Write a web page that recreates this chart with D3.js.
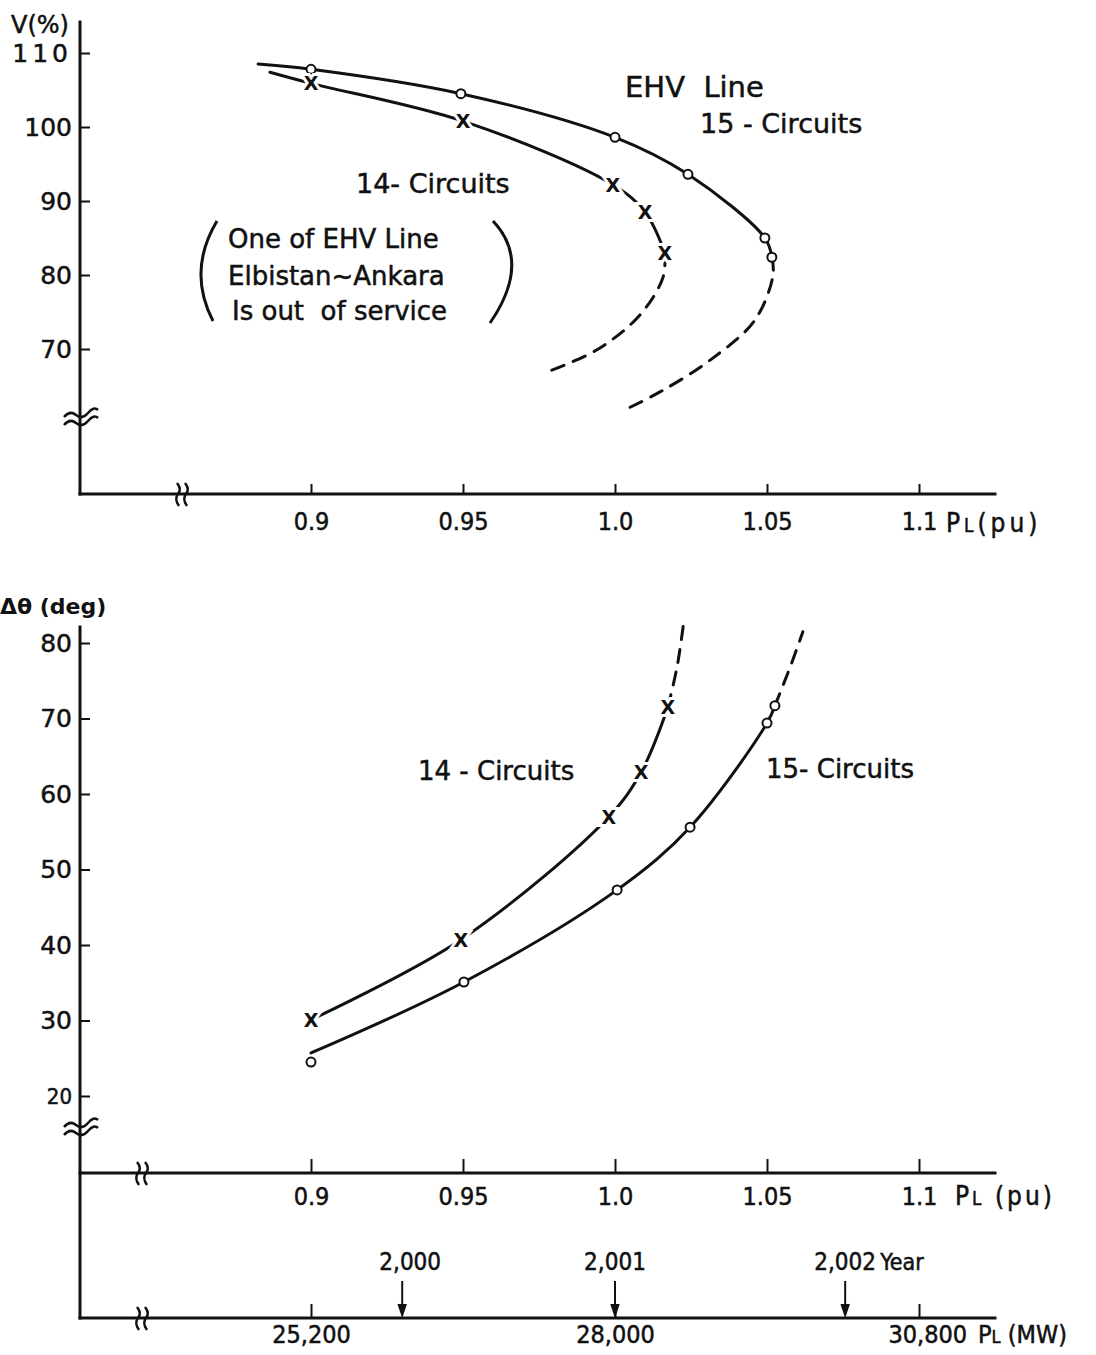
<!DOCTYPE html>
<html>
<head>
<meta charset="utf-8">
<script src="https://cdn.jsdelivr.net/npm/d3@7"></script>
<style>
  html, body { margin: 0; padding: 0; background: #fff; }
  svg { display: block; }
  text { fill: #111; }
  .ink { stroke: #111; stroke-width: 0.5px; }
</style>
</head>
<body>
<svg id="chart" width="1096" height="1355"></svg>
<script>
// ---------------- DATA ----------------
// Shared per-unit load axis
const puTicks = [0.9, 0.95, 1.0, 1.05, 1.1];
const puTickLabels = ["0.9", "0.95", "1.0", "1.05", "1.1"];

// Top panel: receiving-end voltage V(%) vs PL (pu)
const vTicks = [70, 80, 90, 100, 110];
const vTickLabels = ["70", "80", "90", "100", "110"];
// 15 circuits (circles)
const v15Solid  = [[0.8826,108.5],[0.9,107.8],[0.9493,104.5],[1.0,98.6],[1.024,93.6],[1.0493,85.0],[1.0516,82.4]];
const v15Dashed = [[1.0516,82.4],[1.052,80.0],[1.046,73.9],[1.0313,68.5],[1.0148,64.2],[1.0023,61.6]];
const v15Marks  = [[0.9,107.8],[0.9493,104.5],[1.0,98.6],[1.024,93.6],[1.0493,85.0],[1.0516,82.4]];
// 14 circuits (crosses)
const v14Solid  = [[0.8865,107.4],[0.9,105.9],[0.95,100.8],[0.9993,92.2],[1.0099,88.5],[1.0164,83.0]];
const v14Dashed = [[1.0164,83.0],[1.0158,79.7],[1.0082,74.6],[0.9941,69.9],[0.977,66.8]];
const v14Marks  = [[0.9,105.9],[0.95,100.8],[0.9993,92.2],[1.0099,88.5],[1.0164,83.0]];

// Bottom panel: phase angle difference (deg) vs PL
const dTicks = [20, 30, 40, 50, 60, 70, 80];
const d15Solid  = [[0.9,25.7],[0.9503,35.1],[1.0007,47.3],[1.0247,55.6],[1.05,69.4],[1.0526,71.7]];
const d15Dashed = [[1.0526,71.7],[1.0576,76.8],[1.0618,81.5]];
const d15Marks  = [[0.9,24.5],[0.9503,35.1],[1.0007,47.3],[1.0247,55.6],[1.05,69.4],[1.0526,71.7]];
const d14Solid  = [[0.9,30.1],[0.9493,40.7],[0.998,57.0],[1.0086,62.9],[1.0174,71.5]];
const d14Dashed = [[1.0174,71.5],[1.0204,76.8],[1.0227,83.0]];
const d14Marks  = [[0.9,30.1],[0.9493,40.7],[0.998,57.0],[1.0086,62.9],[1.0174,71.5]];

// MW axis and years
const mwTicks = [25200, 28000, 30800];
const mwTickLabels = ["25,200", "28,000", "30,800"];
const yearLabels = ["2,000", "2,001", "2,002"];
const yearMW = [26040, 28000, 30120];

// ---------------- LAYOUT ----------------
const svg = d3.select("#chart");
const axisX = 80, axisRight = 995;
const topAxisY = 494, topAxisTop = 22;
const botAxisTop = 627, puAxisY = 1173, mwAxisY = 1318;

const x = d3.scaleLinear().domain([0.9, 1.1]).range([311, 919]);
const xMW = d3.scaleLinear().domain([25200, 30800]).range([311, 919]);
const yV = d3.scaleLinear().domain([70, 110]).range([349, 53]);
const yD = d3.scaleLinear().domain([20, 80]).range([1096, 643]);

const FONT = "'DejaVu Sans', 'Liberation Sans', sans-serif";
const FONTC = "'DejaVu Sans Condensed', 'Liberation Sans Narrow', 'DejaVu Sans', sans-serif";
const INK = "#111";

function axisLine(x1, y1, x2, y2) {
  svg.append("line").attr("x1", x1).attr("y1", y1).attr("x2", x2).attr("y2", y2)
    .attr("stroke", INK).attr("stroke-width", 3).attr("stroke-linecap", "square");
}

function styleAxis(g, font, size) {
  g.select(".domain").remove();
  g.selectAll(".tick line").attr("stroke", INK).attr("stroke-width", 2);
  g.selectAll(".tick text").attr("font-family", font).attr("font-size", size)
    .attr("fill", INK).attr("class", "ink");
}

// Y break symbol (≈) on vertical axis
function yBreak(yc) {
  [-4, 4].forEach(o => {
    svg.append("path")
      .attr("d", `M${axisX-16},${yc+o+2} q6,-7 12,-2 t12,-2 t10,-3`)
      .attr("fill", "none").attr("stroke", INK).attr("stroke-width", 2.5);
  });
}
// X break symbol ()) on horizontal axis
function xBreak(xc, yc) {
  [-4, 4].forEach(o => {
    svg.append("path")
      .attr("d", `M${xc+o-2},${yc-11} q5,6 1,11 t1,12`)
      .attr("fill", "none").attr("stroke", INK).attr("stroke-width", 2.5);
  });
}

function pl(sel, tail, size) {
  sel.append("tspan").text("P");
  sel.append("tspan").attr("font-size", size * 0.72).text("L");
  sel.append("tspan").text(tail);
}

// ---------------- TOP PANEL ----------------
axisLine(axisX, topAxisTop, axisX, topAxisY);
axisLine(axisX, topAxisY, axisRight, topAxisY);

const gxTop = svg.append("g").attr("transform", `translate(0,${topAxisY})`)
  .call(d3.axisBottom(x).tickValues(puTicks).tickFormat((d, i) => puTickLabels[i])
    .tickSizeInner(-10).tickSizeOuter(0).tickPadding(18));
styleAxis(gxTop, FONTC, 25);

const gyTop = svg.append("g").attr("transform", `translate(${axisX},0)`)
  .call(d3.axisLeft(yV).tickValues(vTicks).tickFormat((d, i) => vTickLabels[i])
    .tickSizeInner(-10).tickSizeOuter(0).tickPadding(8));
styleAxis(gyTop, FONT, 25);
gyTop.selectAll(".tick text").filter(d => d === 110).attr("letter-spacing", 4);

yBreak(419);
xBreak(183, topAxisY);

svg.append("text").attr("x", 11).attr("y", 33).attr("font-family", FONT)
  .attr("font-size", 24).attr("class", "ink").text("V(%)");

const tx = svg.append("text").attr("x", 946).attr("y", 532)
  .attr("font-family", FONTC).attr("font-size", 26).attr("letter-spacing", 4).attr("class", "ink");
pl(tx, "(pu)", 26);

// ---------------- BOTTOM PANEL ----------------
axisLine(axisX, botAxisTop, axisX, mwAxisY);
axisLine(axisX, puAxisY, axisRight, puAxisY);
axisLine(axisX, mwAxisY, axisRight, mwAxisY);

const gxBot = svg.append("g").attr("transform", `translate(0,${puAxisY})`)
  .call(d3.axisBottom(x).tickValues(puTicks).tickFormat((d, i) => puTickLabels[i])
    .tickSizeInner(-14).tickSizeOuter(0).tickPadding(14));
styleAxis(gxBot, FONTC, 25);

const gyBot = svg.append("g").attr("transform", `translate(${axisX},0)`)
  .call(d3.axisLeft(yD).tickValues(dTicks).tickFormat(d3.format("d"))
    .tickSizeInner(-10).tickSizeOuter(0).tickPadding(8));
styleAxis(gyBot, FONT, 25);
gyBot.selectAll(".tick text").filter(d => d === 20).attr("font-family", FONTC).attr("font-size", 22);

const gMW = svg.append("g").attr("transform", `translate(0,${mwAxisY})`)
  .call(d3.axisBottom(xMW).tickValues(mwTicks).tickFormat((d, i) => mwTickLabels[i])
    .tickSizeInner(-14).tickSizeOuter(0).tickPadding(7));
styleAxis(gMW, FONTC, 25);
gMW.selectAll(".tick text").filter(d => d === 30800)
  .attr("text-anchor", "start").attr("x", -31);

yBreak(1129);
xBreak(143, puAxisY);
xBreak(143, mwAxisY);

svg.append("text").attr("x", 0).attr("y", 614).attr("font-family", FONT)
  .attr("font-size", 22).attr("font-weight", "bold").text("Δθ (deg)");

const tpu = svg.append("text").attr("x", 955).attr("y", 1205)
  .attr("font-family", FONTC).attr("font-size", 26).attr("letter-spacing", 3).attr("class", "ink");
pl(tpu, " (pu)", 26);

const tmw = svg.append("text").attr("x", 978).attr("y", 1343)
  .attr("font-family", FONTC).attr("font-size", 25).attr("class", "ink");
pl(tmw, " (MW)", 25);

// year arrows
const yearG = svg.append("g");
yearMW.forEach((mw, i) => {
  const xx = xMW(mw);
  yearG.append("line").attr("x1", xx).attr("x2", xx).attr("y1", 1281).attr("y2", mwAxisY - 4)
    .attr("stroke", INK).attr("stroke-width", 2);
  yearG.append("path").attr("d", `M${xx-4},${mwAxisY-14} L${xx},${mwAxisY-2} L${xx+4},${mwAxisY-14}`)
    .attr("fill", INK).attr("stroke", INK).attr("stroke-width", 1.5);
  yearG.append("text").attr("x", xx + (i === 0 ? 8 : 0)).attr("y", 1270).attr("text-anchor", "middle")
    .attr("font-family", FONTC).attr("font-size", 24).attr("class", "ink").text(yearLabels[i]);
});
yearG.append("text").attr("x", xMW(yearMW[2]) + 35).attr("y", 1270)
  .attr("font-family", FONTC).attr("font-size", 23).attr("class", "ink").text("Year");

// ---------------- CURVES ----------------
function drawCurve(data, yScale, dashed) {
  const line = d3.line().x(d => x(d[0])).y(d => yScale(d[1])).curve(d3.curveCatmullRom.alpha(0.5));
  svg.append("path").datum(data).attr("d", line)
    .attr("fill", "none").attr("stroke", INK).attr("stroke-width", 3)
    .attr("stroke-dasharray", dashed ? "13,10" : null).attr("stroke-linecap", "round");
}
function drawCircles(data, yScale) {
  svg.append("g").selectAll("circle").data(data).join("circle")
    .attr("cx", d => x(d[0])).attr("cy", d => yScale(d[1])).attr("r", 4.5)
    .attr("fill", "#fff").attr("stroke", INK).attr("stroke-width", 2);
}
function drawCrosses(data, yScale) {
  svg.append("g").selectAll("text").data(data).join("text")
    .attr("x", d => x(d[0])).attr("y", d => yScale(d[1]))
    .attr("text-anchor", "middle").attr("dominant-baseline", "central")
    .attr("font-family", FONT).attr("font-weight", "bold").attr("font-size", 19)
    .attr("stroke", "#fff").attr("stroke-width", 6).attr("paint-order", "stroke")
    .text("X");
}

drawCurve(v15Solid, yV, false);
drawCurve(v15Dashed, yV, true);
drawCurve(v14Solid, yV, false);
drawCurve(v14Dashed, yV, true);
drawCircles(v15Marks, yV);
drawCrosses(v14Marks, yV);

drawCurve(d15Solid, yD, false);
drawCurve(d15Dashed, yD, true);
drawCurve(d14Solid, yD, false);
drawCurve(d14Dashed, yD, true);
drawCircles(d15Marks, yD);
drawCrosses(d14Marks, yD);

// ---------------- ANNOTATIONS ----------------
function label(xp, yp, txt, size, font) {
  svg.append("text").attr("x", xp).attr("y", yp).attr("font-family", font || FONT)
    .attr("font-size", size).attr("class", "ink").attr("xml:space", "preserve").text(txt);
}
label(625, 97, "EHV  Line", 29);
label(700, 133, "15 - Circuits", 27);
label(356, 193, "14- Circuits", 27);
label(228, 248, "One of EHV Line", 26);
label(228, 285, "Elbistan~Ankara", 26);
label(232, 320, "Is out  of service", 26);
svg.append("path").attr("d", "M217,221 Q187,271 213,321").attr("fill", "none")
  .attr("stroke", INK).attr("stroke-width", 3);
svg.append("path").attr("d", "M493,221 Q532,262 490,323").attr("fill", "none")
  .attr("stroke", INK).attr("stroke-width", 3);

label(418, 780, "14 - Circuits", 26);
label(766, 778, "15- Circuits", 26);
</script>
</body>
</html>
